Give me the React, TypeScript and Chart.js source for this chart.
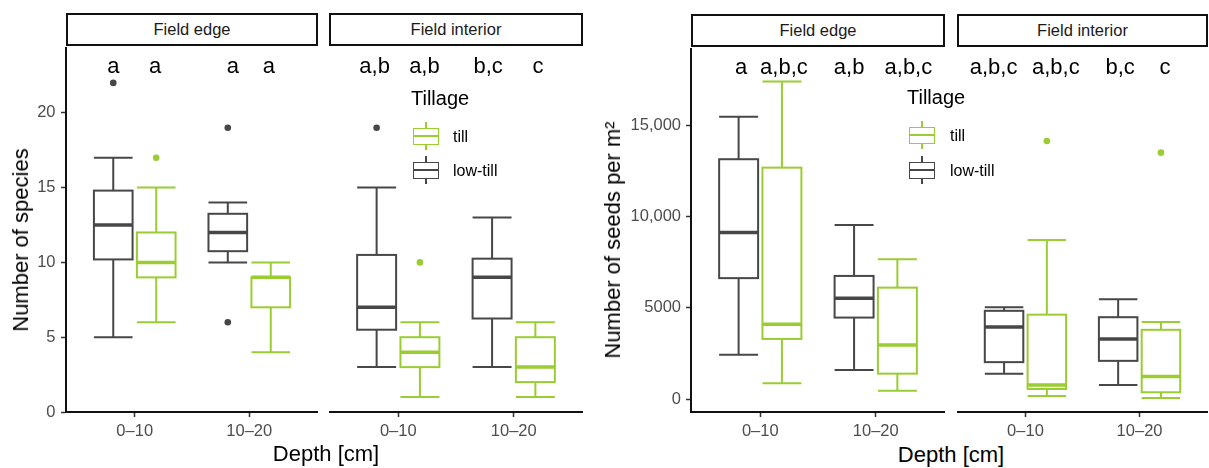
import React, { useEffect, useRef } from 'react';
import { Chart, registerables } from 'chart.js';

Chart.register(...registerables);

// ---------- data ----------
const depthLabels = ['0–10', '10–20'];
const facetLabels = ['Field edge', 'Field interior'];
const tillageLabels = ['till', 'low-till'];
const legendTitle = 'Tillage';

// box stats per depth: [lower whisker, Q1, median, Q3, upper whisker]
const speciesEdgeLowTill = [[5, 10.2, 12.5, 14.8, 17], [10, 10.75, 12, 13.25, 14]];
const speciesEdgeTill = [[6, 9, 10, 12, 15], [4, 7, 9, 9, 10]];
const speciesInteriorLowTill = [[3, 5.5, 7, 10.5, 15], [3, 6.25, 9, 10.25, 13]];
const speciesInteriorTill = [[1, 3, 4, 5, 6], [1, 2, 3, 5, 6]];
const speciesEdgeLowTillOutliers = [[22], [19, 6]];
const speciesEdgeTillOutliers = [[17], []];
const speciesInteriorLowTillOutliers = [[19], []];
const speciesInteriorTillOutliers = [[10], []];
// letters: low-till 0–10, till 0–10, low-till 10–20, till 10–20
const speciesEdgeLetters = ['a', 'a', 'a', 'a'];
const speciesInteriorLetters = ['a,b', 'a,b', 'b,c', 'c'];
const speciesTicks = [0, 5, 10, 15, 20];
const speciesTickLabels = ['0', '5', '10', '15', '20'];

const seedsEdgeLowTill = [[2430, 6630, 9130, 13140, 15470], [1600, 4470, 5530, 6750, 9540]];
const seedsEdgeTill = [[880, 3300, 4110, 12680, 17390], [460, 1400, 2970, 6110, 7670]];
const seedsInteriorLowTill = [[1400, 2030, 3960, 4840, 5040], [780, 2100, 3300, 4490, 5480]];
const seedsInteriorTill = [[180, 560, 780, 4630, 8720], [60, 380, 1240, 3800, 4230]];
const seedsEdgeLowTillOutliers = [[], []];
const seedsEdgeTillOutliers = [[], []];
const seedsInteriorLowTillOutliers = [[], []];
const seedsInteriorTillOutliers = [[14140], [13500]];
const seedsEdgeLetters = ['a', 'a,b,c', 'a,b', 'a,b,c'];
const seedsInteriorLetters = ['a,b,c', 'a,b,c', 'b,c', 'c'];
const seedsTicks = [0, 5000, 10000, 15000];
const seedsTickLabels = ['0', '5000', '10,000', '15,000'];

const speciesTitle = 'Number of species';
const seedsTitle = 'Number of seeds per m²';
const xTitle = 'Depth [cm]';

// ---------- styling ----------
const GRAY = '#474747';
const GREEN = '#9acd32';
const FONT = '"Liberation Sans", Arial, sans-serif';
const DODGE = 0.1875;
const BOX_W = 0.3375;

type Facet = {
  left: number; top: number; width: number; height: number;
  yAxisWidth: number; yPad: number;
  yMin: number; yMax: number; yTicks: number[]; yTickLabels: string[];
  lowTill: number[][]; till: number[][];
  lowTillOut: number[][]; tillOut: number[][];
  letters: string[]; letterDx: number[];
};

function drawBox(ctx: CanvasRenderingContext2D, xs: any, ys: any, center: number, stats: number[], color: string) {
  const [lo, q1, med, q3, hi] = stats.map((v) => ys.getPixelForValue(v));
  const xc = xs.getPixelForValue(center);
  const xl = xs.getPixelForValue(center - BOX_W / 2);
  const xr = xs.getPixelForValue(center + BOX_W / 2);
  ctx.save();
  ctx.strokeStyle = color;
  ctx.lineWidth = 2;
  ctx.beginPath();
  ctx.moveTo(xc, hi); ctx.lineTo(xc, q3);
  ctx.moveTo(xc, q1); ctx.lineTo(xc, lo);
  ctx.moveTo(xl, hi); ctx.lineTo(xr, hi);
  ctx.moveTo(xl, lo); ctx.lineTo(xr, lo);
  ctx.stroke();
  ctx.fillStyle = '#ffffff';
  ctx.fillRect(xl, q3, xr - xl, q1 - q3);
  ctx.strokeRect(xl, q3, xr - xl, q1 - q3);
  ctx.lineWidth = 3.5;
  ctx.beginPath();
  ctx.moveTo(xl, med); ctx.lineTo(xr, med);
  ctx.stroke();
  ctx.restore();
}

function makePlugin(f: Facet) {
  return {
    id: 'boxes',
    beforeDatasetsDraw(chart: any) {
      const ctx = chart.ctx;
      const xs = chart.scales.x;
      const ys = chart.scales.y;
      depthLabels.forEach((_, d) => {
        drawBox(ctx, xs, ys, d + 1 - DODGE, f.lowTill[d], GRAY);
        drawBox(ctx, xs, ys, d + 1 + DODGE, f.till[d], GREEN);
      });
    },
    afterDatasetsDraw(chart: any) {
      const ctx = chart.ctx;
      const xs = chart.scales.x;
      const y = chart.chartArea.top + 26;
      ctx.save();
      ctx.font = `22px ${FONT}`;
      ctx.fillStyle = '#000';
      ctx.textAlign = 'center';
      ctx.textBaseline = 'alphabetic';
      f.letters.forEach((t, i) => {
        const d = Math.floor(i / 2);
        const c = d + 1 + (i % 2 === 0 ? -DODGE : DODGE);
        ctx.fillText(t, xs.getPixelForValue(c) + (f.letterDx[i] || 0), y);
      });
      ctx.restore();
    },
  };
}

function config(f: Facet): any {
  const tickFont = { family: FONT, size: 16.5 };
  return {
    type: 'scatter',
    data: {
      datasets: [
        {
          label: tillageLabels[1],
          data: f.lowTillOut.flatMap((vals, d) => vals.map((v) => ({ x: d + 1 - DODGE, y: v }))),
          backgroundColor: GRAY, pointRadius: 3.3, borderWidth: 0,
        },
        {
          label: tillageLabels[0],
          data: f.tillOut.flatMap((vals, d) => vals.map((v) => ({ x: d + 1 + DODGE, y: v }))),
          backgroundColor: GREEN, pointRadius: 3.3, borderWidth: 0,
        },
      ],
    },
    options: {
      responsive: false,
      animation: false,
      events: [],
      layout: { padding: 0, autoPadding: false },
      plugins: { legend: { display: false }, tooltip: { enabled: false } },
      scales: {
        x: {
          type: 'linear', min: 0.4, max: 2.6,
          afterBuildTicks: (s: any) => { s.ticks = depthLabels.map((_, i) => ({ value: i + 1 })); },
          ticks: {
            callback: (_v: any, i: number) => depthLabels[i],
            font: tickFont, color: '#4d4d4d', padding: 5, autoSkip: false, maxRotation: 0,
          },
          grid: { display: true, drawOnChartArea: false, drawTicks: true, tickLength: 5, tickColor: '#333', tickWidth: 1.5 },
          border: { display: true, color: '#111', width: 2 },
          afterFit: (s: any) => { s.height = 30; s.paddingLeft = 0; s.paddingRight = 0; },
        },
        y: {
          type: 'linear', display: f.yAxisWidth > 0, min: f.yMin, max: f.yMax,
          afterBuildTicks: (s: any) => { s.ticks = f.yTicks.map((v) => ({ value: v })); },
          ticks: {
            callback: (_v: any, i: number) => f.yTickLabels[i],
            font: tickFont, color: '#4d4d4d', padding: f.yPad, autoSkip: false,
          },
          grid: { display: true, drawOnChartArea: false, drawTicks: true, tickLength: 5, tickColor: '#333', tickWidth: 1.5 },
          border: { display: true, color: '#111', width: 2 },
          afterFit: (s: any) => { s.width = f.yAxisWidth; s.paddingTop = 0; s.paddingBottom = 0; },
        },
      },
    },
    plugins: [makePlugin(f)],
  };
}

function FacetChart({ f }: { f: Facet }) {
  const ref = useRef<HTMLCanvasElement>(null);
  useEffect(() => {
    const chart = new Chart(ref.current as HTMLCanvasElement, config(f));
    return () => chart.destroy();
  }, []);
  return (
    <canvas
      ref={ref}
      width={f.width}
      height={f.height}
      style={{ position: 'absolute', left: f.left, top: f.top, width: f.width, height: f.height }}
    />
  );
}

const facets: Facet[] = [
  {
    left: 0, top: 47, width: 318, height: 395, yAxisWidth: 66, yPad: 5.5,
    yMin: 0, yMax: 24.4, yTicks: speciesTicks, yTickLabels: speciesTickLabels,
    lowTill: speciesEdgeLowTill, till: speciesEdgeTill,
    lowTillOut: speciesEdgeLowTillOutliers, tillOut: speciesEdgeTillOutliers,
    letters: speciesEdgeLetters, letterDx: [0, -1, 5, -2],
  },
  {
    left: 329, top: 47, width: 254, height: 395, yAxisWidth: 0, yPad: 5.5,
    yMin: 0, yMax: 24.4, yTicks: speciesTicks, yTickLabels: speciesTickLabels,
    lowTill: speciesInteriorLowTill, till: speciesInteriorTill,
    lowTillOut: speciesInteriorLowTillOutliers, tillOut: speciesInteriorTillOutliers,
    letters: speciesInteriorLetters, letterDx: [-2, 4.5, -4, 2.5],
  },
  {
    left: 600, top: 48, width: 345, height: 394, yAxisWidth: 91, yPad: 5,
    yMin: -700, yMax: 19230, yTicks: seedsTicks, yTickLabels: seedsTickLabels,
    lowTill: seedsEdgeLowTill, till: seedsEdgeTill,
    lowTillOut: seedsEdgeLowTillOutliers, tillOut: seedsEdgeTillOutliers,
    letters: seedsEdgeLetters, letterDx: [2.5, 2, -5, 11],
  },
  {
    left: 957, top: 48, width: 251, height: 394, yAxisWidth: 0, yPad: 5,
    yMin: -700, yMax: 19230, yTicks: seedsTicks, yTickLabels: seedsTickLabels,
    lowTill: seedsInteriorLowTill, till: seedsInteriorTill,
    lowTillOut: seedsInteriorLowTillOutliers, tillOut: seedsInteriorTillOutliers,
    letters: seedsInteriorLetters, letterDx: [-10.5, 9, 2, 4],
  },
];

const strips = [
  { left: 66, top: 13, width: 252, label: facetLabels[0] },
  { left: 329, top: 13, width: 254, label: facetLabels[1] },
  { left: 691, top: 14, width: 254, label: facetLabels[0] },
  { left: 957, top: 14, width: 251, label: facetLabels[1] },
];

function Txt({ x, y, size, children, center = false, color = '#000' }: any) {
  return (
    <div
      style={{
        position: 'absolute', left: x, top: y - 0.8465 * size, fontSize: size, lineHeight: `${size}px`,
        whiteSpace: 'nowrap', color, transform: center ? 'translateX(-50%)' : undefined,
      }}
    >
      {children}
    </div>
  );
}

function VTxt({ cx, cy, size, children }: any) {
  return (
    <div
      style={{
        position: 'absolute', left: cx, top: cy, fontSize: size, lineHeight: `${size}px`, whiteSpace: 'nowrap',
        color: '#000', transform: 'translate(-50%,-50%) rotate(-90deg)',
      }}
    >
      {children}
    </div>
  );
}

function Key({ left, cy, color }: { left: number; cy: number; color: string }) {
  return (
    <>
      <div style={{ position: 'absolute', left: left + 12.25, top: cy - 14, width: 1.5, height: 28, background: color }} />
      <div
        style={{
          position: 'absolute', left, top: cy - 8.5, width: 26, height: 17, boxSizing: 'border-box',
          border: `1.5px solid ${color}`, background: '#fff',
        }}
      />
      <div style={{ position: 'absolute', left, top: cy - 0.75, width: 26, height: 1.5, background: color }} />
    </>
  );
}

function Legend({ x, titleBase, keyX, labelX, cys, labelBases }: any) {
  return (
    <>
      <Txt x={x} y={titleBase} size={20}>{legendTitle}</Txt>
      <Key left={keyX} cy={cys[0]} color={GREEN} />
      <Key left={keyX} cy={cys[1]} color={GRAY} />
      <Txt x={labelX} y={labelBases[0]} size={16}>{tillageLabels[0]}</Txt>
      <Txt x={labelX} y={labelBases[1]} size={16}>{tillageLabels[1]}</Txt>
    </>
  );
}

export default function App() {
  return (
    <div
      style={{
        position: 'absolute', left: 0, top: 0, width: 1209, height: 468, background: '#fff',
        overflow: 'hidden', fontFamily: FONT,
      }}
    >
      {strips.map((s, i) => (
        <div
          key={i}
          style={{
            position: 'absolute', left: s.left, top: s.top, width: s.width, height: 33, boxSizing: 'border-box',
            border: '2px solid #111', display: 'flex', alignItems: 'center', justifyContent: 'center',
            fontSize: 16.5, lineHeight: '16.5px', color: '#1a1a1a',
          }}
        >
          {s.label}
        </div>
      ))}
      {facets.map((f, i) => (
        <FacetChart key={i} f={f} />
      ))}
      <VTxt cx={21.4} cy={240} size={22}>{speciesTitle}</VTxt>
      <VTxt cx={613} cy={240} size={22}>{seedsTitle}</VTxt>
      <Txt x={326} y={462} size={22} center>{xTitle}</Txt>
      <Txt x={951} y={463} size={22} center>{xTitle}</Txt>
      <Legend x={411} titleBase={105} keyX={413} labelX={453} cys={[136, 170]} labelBases={[143, 177]} />
      <Legend x={907} titleBase={104} keyX={909} labelX={950} cys={[135, 170]} labelBases={[142, 177]} />
    </div>
  );
}
